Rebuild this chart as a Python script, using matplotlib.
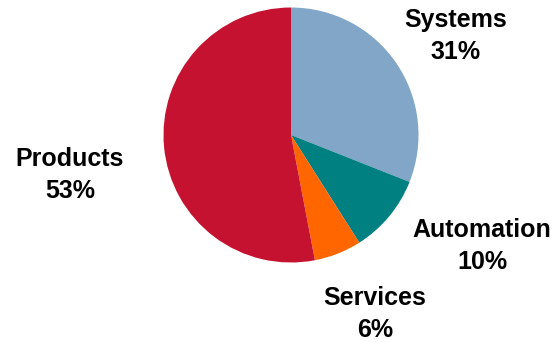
import matplotlib
matplotlib.use("Agg")
import matplotlib.pyplot as plt

segments = ["Systems", "Automation", "Services", "Products"]
shares = [31, 10, 6, 53]
colors = ["#82A6C8", "#008080", "#FF6600", "#C41230"]

W, H = 554, 342
fig = plt.figure(figsize=(W / 100, H / 100), dpi=100)
fig.patch.set_facecolor("white")

# pie centre and radius in pixels
cx, cy, r = 291, 135, 127.5
ax = fig.add_axes([(cx - r) / W, (H - cy - r) / H, 2 * r / W, 2 * r / H])
ax.pie(shares, colors=colors, startangle=90, counterclock=False,
       wedgeprops=dict(linewidth=0))
ax.set_xlim(-1, 1)
ax.set_ylim(-1, 1)
ax.set_aspect("equal")
ax.axis("off")

# label block centres in pixels (x, y from top)
label_pos = {
    "Systems": (456, 36),
    "Automation": (482, 246),
    "Services": (375, 314),
    "Products": (70, 175),
}
for name, val in zip(segments, shares):
    x, y = label_pos[name]
    fig.text(x / W, 1 - y / H, f"{name}\n{val}%", ha="center", va="center",
             fontsize=18, fontweight="bold", family="Liberation Sans",
             linespacing=1.45, color="black")

fig.savefig("out.png", dpi=100)
